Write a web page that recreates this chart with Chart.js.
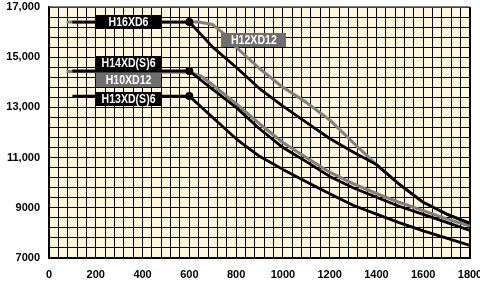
<!DOCTYPE html>
<html><head><meta charset="utf-8">
<script src="https://cdn.jsdelivr.net/npm/chart.js@4.4.1/dist/chart.umd.min.js"></script>
<style>html,body{margin:0;padding:0;background:#fff}canvas{display:block}</style>
</head><body>
<canvas id="c" width="480" height="284"></canvas>
<script>
// ---- data ----
const xTickValues = [0, 200, 400, 600, 800, 1000, 1200, 1400, 1600, 1800];
const xTickLabels = ['0', '200', '400', '600', '800', '1000', '1200', '1400', '1600', '1800'];
const yTickValues = [7000, 9000, 11000, 13000, 15000, 17000];
const yTickLabels = ['7000', '9000', '11,000', '13,000', '15,000', '17,000'];

const seriesNames = ['H16XD6', 'H14XD(S)6', 'H13XD(S)6', 'H12XD12', 'H10XD12'];

const xBlack = [100, 600, 700, 800, 900, 1000, 1100, 1200, 1300, 1400, 1500, 1600, 1700, 1800];
const h16xd6 = [16400, 16400, 15400, 14600, 13750, 13050, 12400, 11760, 11220, 10720, 9920, 9220, 8750, 8380];
const h14xds6 = [14450, 14450, 13720, 13000, 12150, 11400, 10840, 10250, 9800, 9420, 9050, 8740, 8420, 8100];
const h13xds6 = [13450, 13450, 12600, 11750, 11050, 10530, 10040, 9560, 9100, 8750, 8400, 8080, 7790, 7500];

const xH12 = [75, 640, 700, 750, 800, 900, 1000, 1100, 1200, 1300, 1400, 1500, 1600, 1700, 1800];
const h12xd12 = [16400, 16400, 16300, 15920, 15400, 14550, 13800, 13200, 12500, 11600, 10720, 9920, 9220, 8750, 8380];

const xH10 = [75, 600, 650, 700, 800, 900, 1000, 1100, 1200, 1300, 1400, 1500, 1600, 1700, 1800];
const h10xd12 = [14430, 14400, 14250, 13900, 13150, 12350, 11600, 11000, 10420, 9960, 9570, 9210, 8890, 8560, 8270];

// label anchors (data coordinates)
const labelTexts = ['H16XD6', 'H12XD12', 'H14XD(S)6', 'H10XD12', 'H13XD(S)6'];
const labelX = [340, 876, 340, 340, 340];
const labelY = [16400, 15685, 14770, 14072, 13330];
const labelDark = [true, false, true, false, true];

// ---- styling ----
const FONT = "'Liberation Sans', Arial, sans-serif";
const BLACK = '#000000';
const GRAY = '#808080';
const BOXGRAY = '#6e6e6e';
const CREAM = '#FFF6DE';

function pts(xs, ys) { return xs.map((x, i) => ({ x: x, y: ys[i] })); }
function kneeRadius(xs) { return xs.map(x => x === 600 ? 4 : 0); }

const bgPlugin = {
  id: 'bg',
  beforeDraw(chart) {
    const { ctx, chartArea: a } = chart;
    ctx.save();
    ctx.fillStyle = CREAM;
    ctx.fillRect(a.left, a.top, a.right - a.left, a.bottom - a.top);
    ctx.restore();
  },
  beforeDatasetsDraw(chart) {
    const { ctx, chartArea: a } = chart;
    ctx.save();
    ctx.strokeStyle = BLACK;
    ctx.lineWidth = 2;
    ctx.beginPath();
    ctx.moveTo(a.right, a.top); ctx.lineTo(a.right, a.bottom);
    ctx.stroke();
    ctx.strokeStyle = '#555';
    ctx.lineWidth = 1.5;
    ctx.beginPath();
    ctx.moveTo(a.left, a.top); ctx.lineTo(a.right, a.top);
    ctx.stroke();
    ctx.restore();
  }
};

const labelPlugin = {
  id: 'boxlabels',
  afterDatasetsDraw(chart) {
    const { ctx } = chart;
    const xs = chart.scales.x, ys = chart.scales.y;
    labelTexts.forEach((t, i) => {
      const cx = xs.getPixelForValue(labelX[i]);
      const cy = ys.getPixelForValue(labelY[i]);
      const w = 65, h = 14;
      ctx.save();
      ctx.fillStyle = labelDark[i] ? BLACK : BOXGRAY;
      ctx.fillRect(Math.round(cx - w / 2), Math.round(cy - h / 2), w, h);
      ctx.translate(cx, cy + 0.5);
      ctx.scale(0.88, 1);
      ctx.font = 'bold 12px ' + FONT;
      ctx.textAlign = 'center';
      ctx.textBaseline = 'middle';
      ctx.fillStyle = '#ffffff';
      ctx.fillText(t, 0, 0);
      ctx.restore();
    });
  }
};

new Chart(document.getElementById('c'), {
  type: 'line',
  data: {
    datasets: [
      { label: seriesNames[0], data: pts(xBlack, h16xd6), borderColor: BLACK, borderWidth: 2.8,
        pointRadius: kneeRadius(xBlack), pointBackgroundColor: BLACK, pointBorderWidth: 0, order: 1 },
      { label: seriesNames[1], data: pts(xBlack, h14xds6), borderColor: BLACK, borderWidth: 2.8,
        pointRadius: kneeRadius(xBlack), pointBackgroundColor: BLACK, pointBorderWidth: 0, order: 1 },
      { label: seriesNames[2], data: pts(xBlack, h13xds6), borderColor: BLACK, borderWidth: 2.8,
        pointRadius: kneeRadius(xBlack), pointBackgroundColor: BLACK, pointBorderWidth: 0, order: 1 },
      { label: seriesNames[3], data: pts(xH12, h12xd12), borderColor: GRAY, borderWidth: 3,
        pointRadius: 0, order: 2 },
      { label: seriesNames[4], data: pts(xH10, h10xd12), borderColor: GRAY, borderWidth: 3,
        pointRadius: 0, order: 2 }
    ]
  },
  options: {
    responsive: false,
    animation: false,
    devicePixelRatio: 1,
    layout: { padding: { top: 7, right: 10, left: 0, bottom: 0 } },
    elements: { line: { tension: 0, fill: false, borderCapStyle: 'butt', borderJoinStyle: 'round' } },
    plugins: { legend: { display: false }, tooltip: { enabled: false } },
    scales: {
      x: {
        type: 'linear', min: 0, max: 1800,
        grid: { color: BLACK, lineWidth: 1, drawTicks: false },
        border: { color: BLACK, width: 2 },
        ticks: {
          stepSize: 40, autoSkip: false, maxRotation: 0, padding: 10,
          color: BLACK, font: { family: FONT, size: 11, weight: 'bold' },
          callback: (v) => { const k = xTickValues.indexOf(Math.round(v)); return k >= 0 ? xTickLabels[k] : ''; }
        },
        afterFit(s) { s.height = 26; s.paddingLeft = 0; s.paddingRight = 0; }
      },
      y: {
        type: 'linear', min: 7000, max: 17000,
        grid: { color: BLACK, lineWidth: 1, drawTicks: false },
        border: { color: BLACK, width: 2 },
        ticks: {
          stepSize: 400, autoSkip: false, padding: 9,
          color: BLACK, font: { family: FONT, size: 11, weight: 'bold' },
          callback: (v) => { const k = yTickValues.indexOf(Math.round(v)); return k >= 0 ? yTickLabels[k] : ''; }
        },
        afterFit(s) { s.width = 49; s.paddingTop = 0; s.paddingBottom = 0; }
      }
    }
  },
  plugins: [bgPlugin, labelPlugin]
});
</script>
</body></html>
